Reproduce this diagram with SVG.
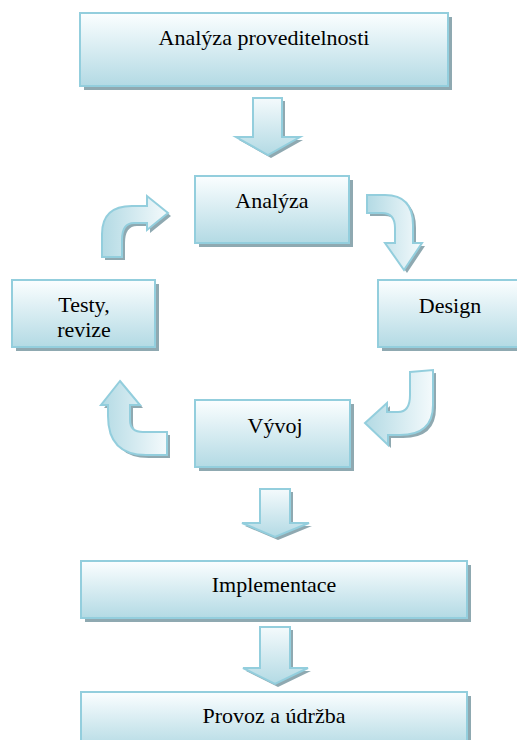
<svg xmlns="http://www.w3.org/2000/svg" width="517" height="740" viewBox="0 0 517 740">
  <defs>
    <linearGradient id="gBox" x1="0" y1="0" x2="0" y2="1">
      <stop offset="0" stop-color="#fbfeff"/>
      <stop offset="1" stop-color="#b3dae4"/>
    </linearGradient>
    <linearGradient id="gDown" x1="0" y1="0" x2="0" y2="1">
      <stop offset="0" stop-color="#f4fafc"/>
      <stop offset="1" stop-color="#b3dae4"/>
    </linearGradient>
    <linearGradient id="gRight" x1="1" y1="0" x2="0" y2="0">
      <stop offset="0" stop-color="#f4fafc"/>
      <stop offset="1" stop-color="#b3dae4"/>
    </linearGradient>
    <linearGradient id="gLeft" x1="0" y1="0" x2="1" y2="0">
      <stop offset="0" stop-color="#b3dae4"/>
      <stop offset="1" stop-color="#f4fafc"/>
    </linearGradient>
  </defs>
  <style>
    .shadow { fill: #8fa9b1; }
    .box { fill: url(#gBox); stroke: #93cedd; stroke-width: 2; }
    .arrow { stroke: #93cedd; stroke-width: 2; stroke-linejoin: miter; }
    text { font-family: 'Liberation Serif', 'DejaVu Serif', serif; font-size: 22px; fill: #000; text-anchor: middle; }
  </style>

  <g id="connectors">
    <g id="arrow-top">
      <path class="shadow" transform="translate(3,3)" d="M253 98 H282 V137 H300 L268 155 L236 137 H253 Z"/>
      <path class="arrow" fill="url(#gDown)" d="M253 98 H282 V137 H300 L268 155 L236 137 H253 Z"/>
    </g>
    <g id="arrow-analyza-design">
      <path class="shadow" transform="translate(3,3)" d="M367 195 L385 195 Q413 195 413 225 L413 243 L422 243 L404 270 L385 243 L395 243 L395 228 Q395 213 382 213 L367 213 Z"/>
      <path class="arrow" fill="url(#gRight)" d="M367 195 L385 195 Q413 195 413 225 L413 243 L422 243 L404 270 L385 243 L395 243 L395 228 Q395 213 382 213 L367 213 Z"/>
    </g>
    <g id="arrow-design-vyvoj">
      <path class="shadow" transform="translate(3,3)" d="M410 372 L433 370 L433 405 Q433 435 400 435 L388 435 L388 445 L365 423 L387 403 L387 412 L398 412 Q410 412 410 395 Z"/>
      <path class="arrow" fill="url(#gRight)" d="M410 372 L433 370 L433 405 Q433 435 400 435 L388 435 L388 445 L365 423 L387 403 L387 412 L398 412 Q410 412 410 395 Z"/>
    </g>
    <g id="arrow-vyvoj-testy">
      <path class="shadow" transform="translate(3,3)" d="M120 381 L140 405 L130 405 L130 420 Q130 432 143 432 L167 432 L167 455 L146 455 Q108 455 108 416 L108 405 L101 405 Z"/>
      <path class="arrow" fill="url(#gLeft)" d="M120 381 L140 405 L130 405 L130 420 Q130 432 143 432 L167 432 L167 455 L146 455 Q108 455 108 416 L108 405 L101 405 Z"/>
    </g>
    <g id="arrow-testy-analyza">
      <path class="shadow" transform="translate(3,3)" d="M102 257 L102 234 Q102 206 132 206 L147 206 L147 196 L168 213 L147 230 L147 223 L134 223 Q122 223 122 240 L122 257 Z"/>
      <path class="arrow" fill="url(#gLeft)" d="M102 257 L102 234 Q102 206 132 206 L147 206 L147 196 L168 213 L147 230 L147 223 L134 223 Q122 223 122 240 L122 257 Z"/>
    </g>
    <g id="arrow-vyvoj-impl">
      <path class="shadow" transform="translate(3,3)" d="M260 489 H290 V523 H309 L275 537 L242 523 H260 Z"/>
      <path class="arrow" fill="url(#gDown)" d="M260 489 H290 V523 H309 L275 537 L242 523 H260 Z"/>
    </g>
    <g id="arrow-impl-provoz">
      <path class="shadow" transform="translate(3,3)" d="M260 627 H290 V668 H308 L275 684 L243 668 H260 Z"/>
      <path class="arrow" fill="url(#gDown)" d="M260 627 H290 V668 H308 L275 684 L243 668 H260 Z"/>
    </g>
  </g>

  <g id="node-proveditelnost">
    <rect class="shadow" x="84" y="17" width="368" height="73"/>
    <rect class="box" x="80" y="13" width="368" height="73"/>
    <text x="264" y="45">Analýza proveditelnosti</text>
  </g>
  <g id="node-analyza">
    <rect class="shadow" x="199" y="180" width="154" height="67"/>
    <rect class="box" x="195" y="176" width="154" height="67"/>
    <text x="272" y="208">Analýza</text>
  </g>
  <g id="node-testy">
    <rect class="shadow" x="16" y="284" width="143" height="67"/>
    <rect class="box" x="12" y="280" width="143" height="67"/>
    <text x="84" y="312">Testy,</text>
    <text x="84" y="337">revize</text>
  </g>
  <g id="node-design">
    <rect class="shadow" x="382" y="284" width="142" height="67"/>
    <rect class="box" x="378" y="280" width="142" height="67"/>
    <text x="450" y="313">Design</text>
  </g>
  <g id="node-vyvoj">
    <rect class="shadow" x="199" y="404" width="155" height="67"/>
    <rect class="box" x="195" y="400" width="155" height="67"/>
    <text x="275" y="433">Vývoj</text>
  </g>
  <g id="node-implementace">
    <rect class="shadow" x="85" y="565" width="386" height="57"/>
    <rect class="box" x="81" y="561" width="386" height="57"/>
    <text x="274" y="592">Implementace</text>
  </g>
  <g id="node-provoz">
    <rect class="shadow" x="85" y="696" width="386" height="57"/>
    <rect class="box" x="81" y="692" width="386" height="57"/>
    <text x="274" y="723">Provoz a údržba</text>
  </g>
</svg>
